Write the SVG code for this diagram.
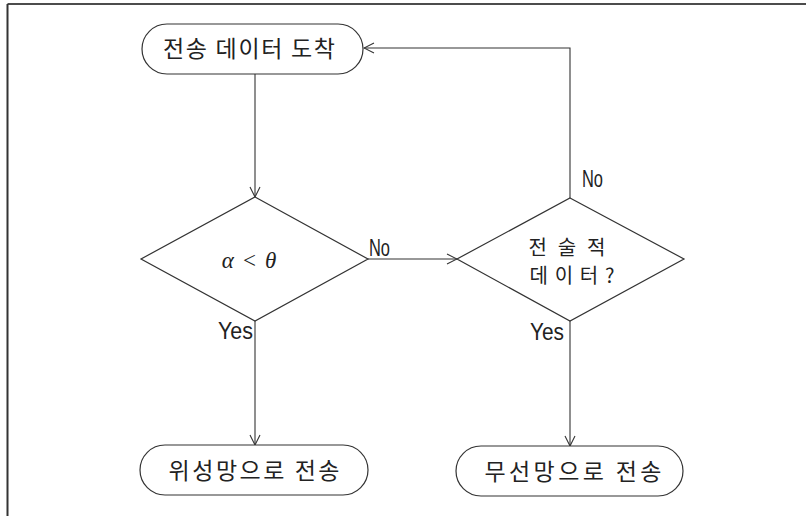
<svg xmlns="http://www.w3.org/2000/svg" width="806" height="516" viewBox="0 0 806 516">
<defs>
<style>
.shape{fill:#fff;stroke:#333;stroke-width:1.2}
.conn{fill:none;stroke:#333;stroke-width:1.1;marker-end:url(#arr)}
.kr{font-family:"Noto Sans CJK KR","Noto Sans",sans-serif;font-size:23px;fill:#222;text-anchor:middle}
.kr2{font-family:"Noto Sans CJK KR","Noto Sans",sans-serif;font-size:20px;fill:#222;text-anchor:middle}
.lbl{font-family:"Liberation Sans",sans-serif;font-size:23px;fill:#222}
.math{font-family:"Liberation Serif",serif;font-size:23px;fill:#222;font-style:italic}
</style>
<marker id="arr" viewBox="0 0 12 12" refX="11" refY="6" markerWidth="12" markerHeight="12" markerUnits="userSpaceOnUse" orient="auto">
<path d="M1,1 L11,6 L1,11" fill="none" stroke="#333" stroke-width="1.1"/>
</marker>
</defs>
<rect width="806" height="516" fill="#fff"/>
<g id="frame">
<line x1="7.5" y1="4" x2="806" y2="4" stroke="#111" stroke-width="1.5"/>
<line x1="7.5" y1="4" x2="7.5" y2="516" stroke="#333" stroke-width="2"/>
</g>
<g id="connectors">
<line class="conn" x1="255" y1="74" x2="255" y2="197"/>
<line class="conn" x1="368" y1="259" x2="457" y2="259"/>
<line class="conn" x1="255" y1="321" x2="255" y2="445"/>
<line class="conn" x1="570" y1="321" x2="570" y2="446"/>
<polyline class="conn" points="570,198 570,48 364,48"/>
<text class="lbl" x="369" y="256" textLength="21" lengthAdjust="spacingAndGlyphs">No</text>
<text class="lbl" x="582" y="187" textLength="21" lengthAdjust="spacingAndGlyphs">No</text>
<text class="lbl" x="218" y="339" textLength="35" lengthAdjust="spacingAndGlyphs">Yes</text>
<text class="lbl" x="530" y="340" textLength="34" lengthAdjust="spacingAndGlyphs">Yes</text>
</g>
<g id="start">
<rect class="shape" x="142" y="24" width="221" height="50" rx="25" ry="25"/>
<text class="kr" x="249" y="57" textLength="172" lengthAdjust="spacing">전송 데이터 도착</text>
</g>
<g id="decision1">
<polygon class="shape" points="255,197 368,259 255,321 141,259"/>
<text class="math" x="249" y="268" text-anchor="middle">α<tspan font-style="normal" dx="9">&lt;</tspan><tspan dx="9">θ</tspan></text>
</g>
<g id="decision2">
<polygon class="shape" points="570,198 684,259 570,321 457,259"/>
<text class="kr2" x="567" y="255" textLength="77" lengthAdjust="spacing">전술적</text>
<text class="kr2" x="572" y="283" textLength="85" lengthAdjust="spacing">데이터?</text>
</g>
<g id="end1">
<rect class="shape" x="140" y="445" width="228" height="50" rx="25" ry="25"/>
<text class="kr" x="254" y="479" textLength="171" lengthAdjust="spacing">위성망으로 전송</text>
</g>
<g id="end2">
<rect class="shape" x="456" y="446" width="227" height="50" rx="25" ry="25"/>
<text class="kr" x="573" y="480" textLength="177" lengthAdjust="spacing">무선망으로 전송</text>
</g>
</svg>
